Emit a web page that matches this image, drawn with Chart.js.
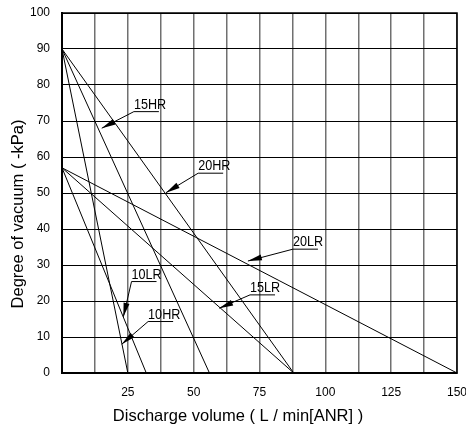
<!DOCTYPE html>
<html>
<head>
<meta charset="utf-8">
<script src="https://cdn.jsdelivr.net/npm/chart.js@4"></script>
<style>
  html, body { margin: 0; padding: 0; background: #fff; }
  #wrap { width: 466px; height: 432px; }
</style>
</head>
<body>
<div id="wrap"><canvas id="myChart" width="466" height="432"></canvas></div>
<script>
// series: each line runs from (0, startVacuum) to (endFlow, 0)
const seriesNames = ['10HR', '15HR', '20HR', '10LR', '15LR', '20LR'];
const startVacuum = [90, 90, 90, 57, 57, 57];
const endFlow = [25, 56, 88, 32, 88, 150];

// x tick labels shown (grid every 12.5)
const xTickLabels = [25, 50, 75, 100, 125, 150];

const xTitle = 'Discharge volume ( L / min[ANR] )';
const yTitle = 'Degree of vacuum ( -kPa)';

// callouts: where the underline starts and where the arrow points (data units)
const callouts = [
    { name: '15HR', x: 27.3, y: 72.6, tipX: 15.1, tipY: 68.0 },
    { name: '20HR', x: 51.7, y: 55.5, tipX: 39.5, tipY: 50.1 },
    { name: '10LR', x: 26.4, y: 25.4, tipX: 23.3, tipY: 15.6 },
    { name: '10HR', x: 32.7, y: 14.3, tipX: 22.7, tipY: 8.0 },
    { name: '15LR', x: 71.4, y: 21.7, tipX: 59.7, tipY: 18.0 },
    { name: '20LR', x: 87.7, y: 34.4, tipX: 70.6, tipY: 31.1 }
];

const FONT = 'Arial, "Liberation Sans", sans-serif';

let datasets = seriesNames.map(function (name, i) {
    return {
        label: name,
        data: [{ x: 0, y: startVacuum[i] }, { x: endFlow[i], y: 0 }],
        borderColor: '#000',
        borderWidth: 1,
        pointRadius: 0,
        showLine: true,
        fill: false
    };
});

const calloutPlugin = {
    id: 'callouts',
    afterDatasetsDraw(chart) {
        const ctx = chart.ctx;
        const xs = chart.scales.x;
        const ys = chart.scales.y;
        ctx.save();
        ctx.strokeStyle = '#000';
        ctx.fillStyle = '#000';
        ctx.lineWidth = 1;
        callouts.forEach(function (c) {
            let x0 = xs.getPixelForValue(c.x);
            let y0 = ys.getPixelForValue(c.y);
            let tx = xs.getPixelForValue(c.tipX);
            let ty = ys.getPixelForValue(c.tipY);
            // underline
            ctx.beginPath();
            ctx.moveTo(x0, y0);
            ctx.lineTo(x0 + 25, y0);
            // leader
            ctx.moveTo(x0, y0);
            ctx.lineTo(tx, ty);
            ctx.stroke();
            // arrow head
            let ang = Math.atan2(y0 - ty, x0 - tx);
            let len = 14, half = 3;
            let bx = tx + Math.cos(ang) * len;
            let by = ty + Math.sin(ang) * len;
            ctx.beginPath();
            ctx.moveTo(tx, ty);
            ctx.lineTo(bx - Math.sin(ang) * half, by + Math.cos(ang) * half);
            ctx.lineTo(bx + Math.sin(ang) * half, by - Math.cos(ang) * half);
            ctx.closePath();
            ctx.fill();
            // text
            ctx.save();
            ctx.translate(x0, y0 - 3);
            ctx.scale(0.9, 1);
            ctx.font = '14px ' + FONT;
            ctx.textAlign = 'left';
            ctx.textBaseline = 'alphabetic';
            ctx.fillText(c.name, 0, 0);
            ctx.restore();
        });
        // frame
        const a = chart.chartArea;
        ctx.lineWidth = 1.5;
        ctx.strokeRect(a.left, a.top, a.right - a.left, a.bottom - a.top);

        // axis titles
        ctx.font = '16.5px ' + FONT;
        ctx.textAlign = 'center';
        ctx.textBaseline = 'middle';
        ctx.fillText(xTitle, 238, 416);
        ctx.save();
        ctx.translate(18, 214);
        ctx.rotate(-Math.PI / 2);
        ctx.fillText(yTitle, 0, 0);
        ctx.restore();
        ctx.restore();
    }
};

const ctx = document.getElementById('myChart');
new Chart(ctx, {
    type: 'scatter',
    data: { datasets: datasets },
    plugins: [calloutPlugin],
    options: {
        responsive: false,
        animation: false,
        events: [],
        layout: { padding: { top: 13, right: 9, left: 0, bottom: 0 } },
        scales: {
            x: {
                type: 'linear',
                min: 0,
                max: 150,
                afterFit: function (scale) {
                    scale.height = 59;
                    scale.paddingLeft = 0;
                    scale.paddingRight = 0;
                },
                ticks: {
                    stepSize: 12.5,
                    autoSkip: false,
                    maxRotation: 0,
                    color: '#000',
                    padding: 12,
                    font: { family: FONT, size: 12 },
                    callback: function (v) { return xTickLabels.includes(v) ? String(v) : ''; }
                },
                grid: { color: '#707070', lineWidth: 1.5, drawTicks: false },
                border: { color: '#000', width: 2 }
            },
            y: {
                type: 'linear',
                min: 0,
                max: 100,
                afterFit: function (scale) {
                    scale.width = 62;
                    scale.paddingTop = 0;
                    scale.paddingBottom = 0;
                },
                ticks: {
                    stepSize: 10,
                    color: '#000',
                    padding: 12,
                    font: { family: FONT, size: 12 }
                },
                grid: { color: '#000', lineWidth: 1, drawTicks: false },
                border: { color: '#000', width: 2 }
            }
        },
        plugins: {
            legend: { display: false },
            tooltip: { enabled: false }
        }
    }
});
</script>
</body>
</html>
